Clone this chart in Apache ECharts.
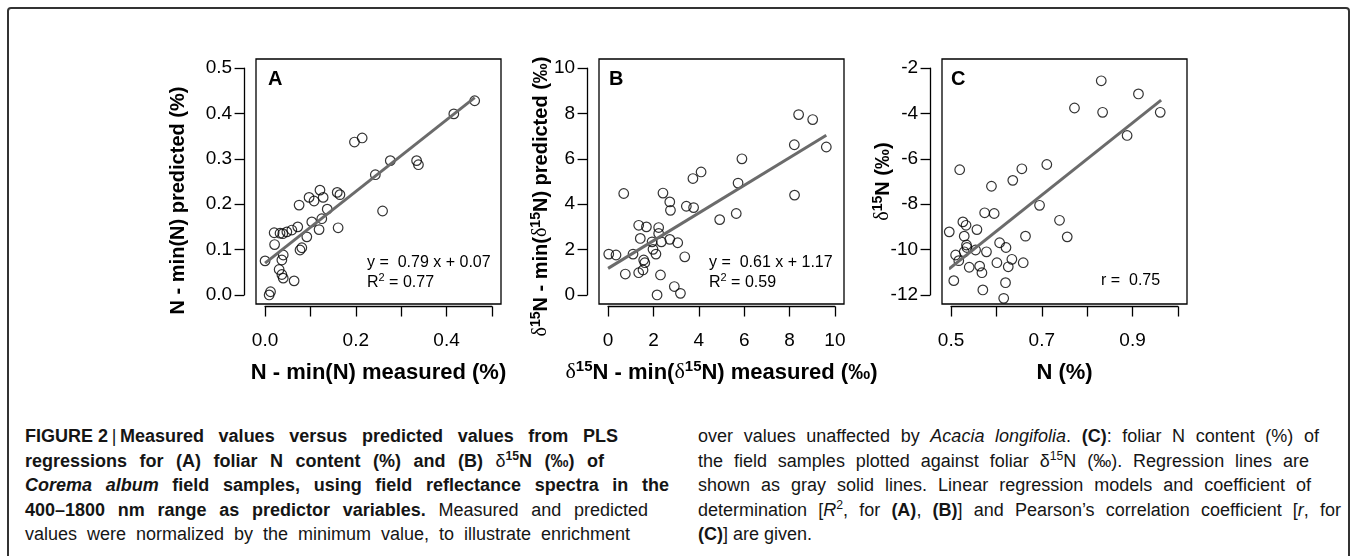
<!DOCTYPE html>
<html>
<head>
<meta charset="utf-8">
<script src="https://cdn.jsdelivr.net/npm/echarts@6/dist/echarts.min.js"></script>
<style>
  html, body { margin: 0; padding: 0; background: #fff; }
  body { width: 1357px; height: 556px; overflow: hidden; position: relative;
         font-family: "Liberation Sans", Arial, Helvetica, sans-serif; }
  #frame { position: absolute; left: 7px; top: 7px; width: 1343px; height: 620px;
           border: 2px solid #333; border-radius: 4px; box-sizing: border-box; }
  #chart { position: absolute; left: 0; top: 0; width: 1357px; height: 400px; }
  .cap { position: absolute; top: 424px; font-size: 18px; line-height: 24.6px; color: #151515; }
  .cap div { white-space: nowrap; text-align: justify; text-align-last: justify; }
  .cap div.last { text-align-last: left; }
  .cap .n { font-weight: normal; }
  .cap .k { display: inline-block; }
  .cap sup { font-size: 0.68em; line-height: 0; vertical-align: 0.55em; }
</style>
</head>
<body>
<div id="frame"></div>
<div id="chart"></div>

<div class="cap" style="left:25px">
  <div style="width:593px"><b><span class="k">FIGURE 2&#8201;<span class="n">|</span>&#8201;Measured</span> values versus predicted values from PLS</b></div>
  <div style="width:579px"><b>regressions for (A) foliar N content (%) and (B) <span class="k"><span class="n">δ</span><sup>15</sup>N</span> <span class="k">(‰)</span> of</b></div>
  <div style="width:644px"><b><i>Corema album</i> field samples, using field reflectance spectra in the</b></div>
  <div style="width:623px"><b>400–1800 nm range as predictor variables.</b> Measured and predicted</div>
  <div style="width:605px">values were normalized by the minimum value, to illustrate enrichment</div>
</div>
<div class="cap" style="left:698px">
  <div style="width:621px">over values unaffected by <i>Acacia longifolia</i>. <b>(C)</b>: foliar N content (%) of</div>
  <div style="width:611px">the field samples plotted against foliar <span class="k">δ<sup>15</sup>N</span> <span class="k">(‰).</span> Regression lines are</div>
  <div style="width:613px">shown as gray solid lines. Linear regression models and coefficient of</div>
  <div style="width:643px">determination [<i>R</i><sup>2</sup>, for <b>(A)</b>, <b>(B)</b>] and Pearson’s correlation coefficient [<i>r</i>, for</div>
  <div class="last"><b>(C)</b>] are given.</div>
</div>

<script>
// 面板 A：N - min(N)，实测 vs 预测
const nMeasuredPredicted = [
  [0.000, 0.075], [0.009, 0.000], [0.012, 0.007], [0.020, 0.137], [0.021, 0.111],
  [0.033, 0.136], [0.039, 0.135], [0.048, 0.139], [0.059, 0.143], [0.072, 0.150],
  [0.037, 0.077], [0.040, 0.088], [0.031, 0.056], [0.037, 0.045], [0.040, 0.037],
  [0.064, 0.031], [0.075, 0.198], [0.077, 0.099], [0.081, 0.104], [0.092, 0.128],
  [0.097, 0.215], [0.103, 0.161], [0.108, 0.207], [0.121, 0.231], [0.128, 0.215],
  [0.119, 0.144], [0.125, 0.168], [0.137, 0.189], [0.159, 0.226], [0.165, 0.221],
  [0.161, 0.148], [0.197, 0.337], [0.214, 0.346], [0.243, 0.265], [0.259, 0.185],
  [0.276, 0.296], [0.334, 0.296], [0.338, 0.287], [0.416, 0.399], [0.462, 0.428]
];
const nFitLine = [[0, 0.07], [0.462, 0.435]];

// 面板 B：δ15N - min(δ15N)，实测 vs 预测
const d15MeasuredPredicted = [
  [0.03, 1.80], [0.35, 1.76], [0.69, 4.47], [0.76, 0.92], [1.10, 1.80],
  [1.35, 3.07], [1.42, 2.49], [1.35, 0.98], [1.69, 3.00], [1.57, 1.54],
  [1.62, 1.42], [1.54, 1.10], [1.94, 2.34], [1.98, 2.01], [2.11, 1.80],
  [2.23, 2.97], [2.23, 2.71], [2.35, 2.34], [2.31, 0.88], [2.16, 0.00],
  [2.42, 4.49], [2.72, 4.10], [2.75, 3.73], [2.72, 2.45], [3.07, 2.30],
  [3.38, 1.68], [2.92, 0.37], [3.19, 0.07], [3.45, 3.91], [3.77, 3.85],
  [3.74, 5.13], [4.10, 5.42], [4.92, 3.32], [5.65, 3.59], [5.73, 4.93],
  [5.90, 6.00], [8.22, 4.40], [8.21, 6.62], [8.40, 7.95], [9.02, 7.73],
  [9.62, 6.52]
];
const d15FitLine = [[0, 1.17], [9.62, 7.04]];

// 面板 C：N (%) vs δ15N (‰)
const nVsD15 = [
  [0.496, -9.22], [0.506, -11.37], [0.510, -10.24], [0.517, -10.49], [0.519, -6.48],
  [0.526, -8.78], [0.533, -8.93], [0.529, -9.41], [0.534, -9.80], [0.535, -9.91],
  [0.529, -10.10], [0.540, -10.78], [0.557, -9.12], [0.554, -10.02], [0.563, -10.73],
  [0.568, -11.02], [0.570, -11.78], [0.578, -10.10], [0.574, -8.38], [0.595, -8.41],
  [0.589, -7.21], [0.607, -9.70], [0.601, -10.58], [0.621, -9.91], [0.626, -10.76],
  [0.634, -10.43], [0.620, -11.46], [0.616, -12.15], [0.636, -6.95], [0.656, -6.44],
  [0.664, -9.41], [0.659, -10.58], [0.695, -8.05], [0.711, -6.25], [0.739, -8.71],
  [0.756, -9.44], [0.772, -3.76], [0.831, -2.56], [0.834, -3.95], [0.888, -4.97],
  [0.913, -3.14], [0.961, -3.95]
];
const nD15FitLine = [[0.495, -10.86], [0.963, -3.41]];

// 轴范围 [min, max, interval] 与刻度标签
const aXRange = [0, 0.5, 0.1], aYRange = [0, 0.5, 0.1];
const bXRange = [0, 10, 2],    bYRange = [0, 10, 2];
const cXRange = [0.5, 1.0, 0.1], cYRange = [-12, -2, 2];
const aXLabels = ['0.0', '', '0.2', '', '0.4', ''];
const aYLabels = ['0.0', '0.1', '0.2', '0.3', '0.4', '0.5'];
const bXLabels = ['0', '2', '4', '6', '8', '10'];
const bYLabels = ['0', '2', '4', '6', '8', '10'];
const cXLabels = ['0.5', '', '0.7', '', '0.9', ''];
const cYLabels = ['-12', '-10', '-8', '-6', '-4', '-2'];

// 轴标题、面板字母与回归注释
const xTitles = ['{b|N - min(N) measured (%)}',
                 '{d|δ}{s|15}{b|N - min(}{d|δ}{s|15}{b|N) measured (‰)}',
                 '{b|N (%)}'];
const yTitles = ['{b|N - min(N) predicted (%)}',
                 '{d|δ}{s|15}{b|N - min(}{d|δ}{s|15}{b|N) predicted (‰)}',
                 '{d|δ}{s|15}{b|N (‰)}'];
const panelLetters = ['A', 'B', 'C'];
const fitNotes = ['{t|y =  0.79 x + 0.07}\n{t|R}{s|2}{t| = 0.77}',
                  '{t|y =  0.61 x + 1.17}\n{t|R}{s|2}{t| = 0.59}',
                  '{t|r =  0.75}'];

const FONT = '"Liberation Sans", Arial, Helvetica, sans-serif';
const BOX = 245;               // 绘图框边长（px）
const PAD = BOX / 27;          // R 默认 4% 扩展
const BOX_TOP = 59;

const panels = [
  { left: 256, data: nMeasuredPredicted, fit: nFitLine, xr: aXRange, yr: aYRange, xl: aXLabels, yl: aYLabels,
    yGap: 54, yShift: 38, letterX: 268, noteX: 367, noteY: 252 },
  { left: 599, data: d15MeasuredPredicted, fit: d15FitLine, xr: bXRange, yr: bYRange, xl: bXLabels, yl: bYLabels,
    yGap: 34, yShift: 30, letterX: 609, noteX: 709, noteY: 252 },
  { left: 942, data: nVsD15, fit: nD15FitLine, xr: cXRange, yr: cYRange, xl: cXLabels, yl: cYLabels,
    yGap: 35, yShift: 0, letterX: 951, noteX: 1101, noteY: 270 }
];

const titleRich = (size) => ({
  b: { fontFamily: FONT, fontWeight: 'bold', fontSize: size, lineHeight: size + 4, color: '#000' },
  d: { fontFamily: '"Liberation Serif", serif', fontWeight: 'normal', fontSize: size, lineHeight: size + 4, color: '#000' },
  s: { fontFamily: FONT, fontWeight: 'bold', fontSize: Math.round(size * 0.7), lineHeight: Math.round(size * 0.7),
       verticalAlign: 'top', color: '#000' }
});
const noteRich = {
  t: { fontFamily: FONT, fontWeight: 'normal', fontSize: 16, lineHeight: 20.5, color: '#000' },
  s: { fontFamily: FONT, fontWeight: 'normal', fontSize: 11, lineHeight: 11, verticalAlign: 'top', color: '#000' }
};

const grid = [], xAxis = [], yAxis = [], series = [], title = [];

panels.forEach((p, i) => {
  // 外框
  grid.push({ left: p.left, top: BOX_TOP, width: BOX, height: BOX, show: true,
              borderColor: '#000', borderWidth: 1.3 });
  xAxis.push({ gridIndex: 2 * i, show: false, min: 0, max: 1 });
  yAxis.push({ gridIndex: 2 * i, show: false, min: 0, max: 1 });
  // 数据区（刻度范围），轴线向外偏移，和 R 的样式一致
  grid.push({ left: p.left + PAD, top: BOX_TOP + PAD, width: BOX - 2 * PAD, height: BOX - 2 * PAD });
  xAxis.push({
    gridIndex: 2 * i + 1, type: 'value', min: p.xr[0], max: p.xr[1], interval: p.xr[2],
    position: 'bottom', offset: 11.6,
    axisLine: { show: true, onZero: false, lineStyle: { color: '#000', width: 1.3 } },
    axisTick: { show: true, length: 10, lineStyle: { color: '#000', width: 1.3 } },
    axisLabel: { margin: 25, fontSize: 19, color: '#000', fontFamily: FONT,
                 formatter: (v, idx) => p.xl[idx] },
    splitLine: { show: false },
    name: xTitles[i], nameLocation: 'middle', nameGap: 53, nameMoveOverlap: false,
    nameTextStyle: { rich: titleRich(22) }
  });
  yAxis.push({
    gridIndex: 2 * i + 1, type: 'value', min: p.yr[0], max: p.yr[1], interval: p.yr[2],
    position: 'left', offset: 21,
    axisLine: { show: true, onZero: false, lineStyle: { color: '#000', width: 1.3 } },
    axisTick: { show: true, length: 9.5, lineStyle: { color: '#000', width: 1.3 } },
    axisLabel: { margin: 12, fontSize: 19, color: '#000', fontFamily: FONT,
                 formatter: (v, idx) => p.yl[idx] },
    splitLine: { show: false },
    name: yTitles[i], nameLocation: 'middle', nameRotate: 90, nameGap: p.yGap, nameMoveOverlap: false,
    nameTextStyle: { rich: titleRich(20), padding: [0, p.yShift, 0, 0] }
  });
  series.push({
    type: 'scatter', xAxisIndex: 2 * i + 1, yAxisIndex: 2 * i + 1, data: p.data,
    symbol: 'circle', symbolSize: 9.6, clip: false, silent: true, z: 2,
    itemStyle: { color: 'rgba(0,0,0,0)', borderColor: '#000', borderWidth: 1.2 }
  });
  series.push({
    type: 'line', xAxisIndex: 2 * i + 1, yAxisIndex: 2 * i + 1, data: p.fit,
    showSymbol: false, silent: true, z: 3,
    lineStyle: { color: '#6b6b6b', width: 3 }
  });
  title.push({ text: '{b|' + panelLetters[i] + '}', left: p.letterX, top: 67, padding: 0,
               textStyle: { rich: titleRich(20) } });
  title.push({ text: fitNotes[i], left: p.noteX, top: p.noteY, padding: 0,
               textStyle: { fontWeight: 'normal', rich: noteRich } });
});

const chart = echarts.init(document.getElementById('chart'));
chart.setOption({ animation: false, title, grid, xAxis, yAxis, series });
</script>
</body>
</html>
